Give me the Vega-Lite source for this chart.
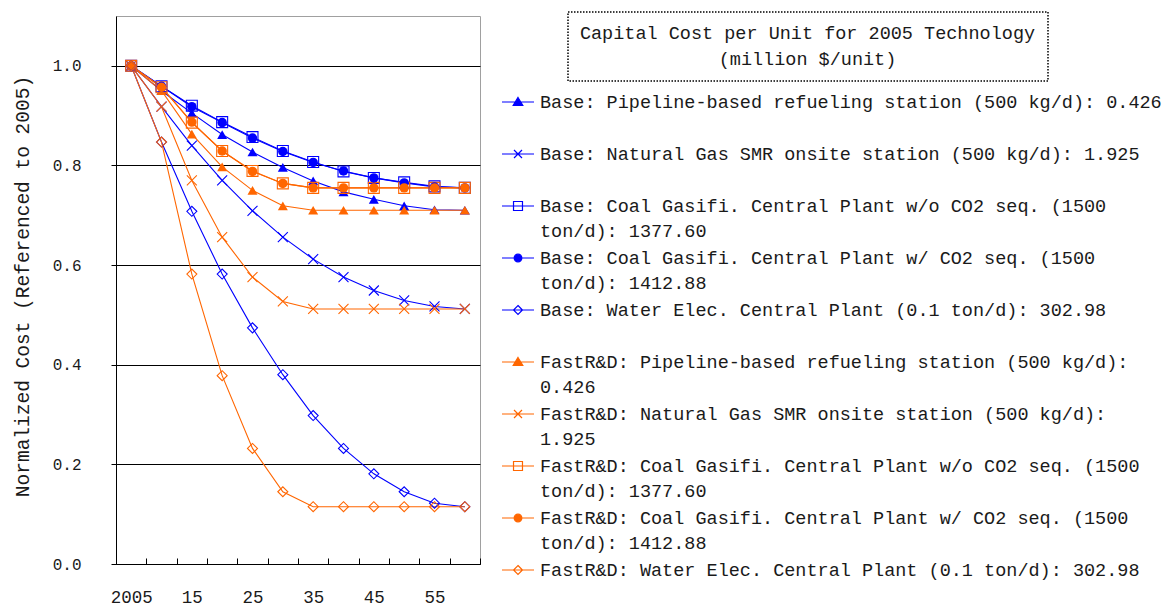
{
  "$schema": "https://vega.github.io/schema/vega-lite/v6.json",
  "width": 364,
  "height": 548,
  "autosize": "none",
  "padding": {"left": 116, "top": 16, "right": 684, "bottom": 42},
  "background": "white",
  "datasets": {
    "pts": [
      {"year":2005,"s":"B1","v":1.0},{"year":2010,"s":"B1","v":0.950},{"year":2015,"s":"B1","v":0.905},{"year":2020,"s":"B1","v":0.862},{"year":2025,"s":"B1","v":0.827},{"year":2030,"s":"B1","v":0.796},{"year":2035,"s":"B1","v":0.769},{"year":2040,"s":"B1","v":0.747},{"year":2045,"s":"B1","v":0.732},{"year":2050,"s":"B1","v":0.719},{"year":2055,"s":"B1","v":0.711},{"year":2060,"s":"B1","v":0.710},
      {"year":2005,"s":"B2","v":1.0},{"year":2010,"s":"B2","v":0.918},{"year":2015,"s":"B2","v":0.840},{"year":2020,"s":"B2","v":0.770},{"year":2025,"s":"B2","v":0.709},{"year":2030,"s":"B2","v":0.656},{"year":2035,"s":"B2","v":0.612},{"year":2040,"s":"B2","v":0.576},{"year":2045,"s":"B2","v":0.549},{"year":2050,"s":"B2","v":0.529},{"year":2055,"s":"B2","v":0.517},{"year":2060,"s":"B2","v":0.512},
      {"year":2005,"s":"B3","v":1.0},{"year":2010,"s":"B3","v":0.959},{"year":2015,"s":"B3","v":0.920},{"year":2020,"s":"B3","v":0.887},{"year":2025,"s":"B3","v":0.857},{"year":2030,"s":"B3","v":0.829},{"year":2035,"s":"B3","v":0.807},{"year":2040,"s":"B3","v":0.788},{"year":2045,"s":"B3","v":0.775},{"year":2050,"s":"B3","v":0.766},{"year":2055,"s":"B3","v":0.758},{"year":2060,"s":"B3","v":0.755},
      {"year":2005,"s":"B4","v":1.0},{"year":2010,"s":"B4","v":0.959},{"year":2015,"s":"B4","v":0.918},{"year":2020,"s":"B4","v":0.886},{"year":2025,"s":"B4","v":0.855},{"year":2030,"s":"B4","v":0.828},{"year":2035,"s":"B4","v":0.806},{"year":2040,"s":"B4","v":0.789},{"year":2045,"s":"B4","v":0.775},{"year":2050,"s":"B4","v":0.765},{"year":2055,"s":"B4","v":0.757},{"year":2060,"s":"B4","v":0.755},
      {"year":2005,"s":"B5","v":1.0},{"year":2010,"s":"B5","v":0.847},{"year":2015,"s":"B5","v":0.708},{"year":2020,"s":"B5","v":0.582},{"year":2025,"s":"B5","v":0.474},{"year":2030,"s":"B5","v":0.380},{"year":2035,"s":"B5","v":0.298},{"year":2040,"s":"B5","v":0.232},{"year":2045,"s":"B5","v":0.181},{"year":2050,"s":"B5","v":0.145},{"year":2055,"s":"B5","v":0.122},{"year":2060,"s":"B5","v":0.115},
      {"year":2005,"s":"F1","v":1.0},{"year":2010,"s":"F1","v":0.950},{"year":2015,"s":"F1","v":0.863},{"year":2020,"s":"F1","v":0.797},{"year":2025,"s":"F1","v":0.750},{"year":2030,"s":"F1","v":0.719},{"year":2035,"s":"F1","v":0.710},{"year":2040,"s":"F1","v":0.710},{"year":2045,"s":"F1","v":0.710},{"year":2050,"s":"F1","v":0.710},{"year":2055,"s":"F1","v":0.710},{"year":2060,"s":"F1","v":0.710},
      {"year":2005,"s":"F2","v":1.0},{"year":2010,"s":"F2","v":0.918},{"year":2015,"s":"F2","v":0.770},{"year":2020,"s":"F2","v":0.656},{"year":2025,"s":"F2","v":0.576},{"year":2030,"s":"F2","v":0.527},{"year":2035,"s":"F2","v":0.512},{"year":2040,"s":"F2","v":0.512},{"year":2045,"s":"F2","v":0.512},{"year":2050,"s":"F2","v":0.512},{"year":2055,"s":"F2","v":0.512},{"year":2060,"s":"F2","v":0.512},
      {"year":2005,"s":"F3","v":1.0},{"year":2010,"s":"F3","v":0.957},{"year":2015,"s":"F3","v":0.886},{"year":2020,"s":"F3","v":0.829},{"year":2025,"s":"F3","v":0.789},{"year":2030,"s":"F3","v":0.764},{"year":2035,"s":"F3","v":0.755},{"year":2040,"s":"F3","v":0.755},{"year":2045,"s":"F3","v":0.755},{"year":2050,"s":"F3","v":0.755},{"year":2055,"s":"F3","v":0.755},{"year":2060,"s":"F3","v":0.755},
      {"year":2005,"s":"F4","v":1.0},{"year":2010,"s":"F4","v":0.957},{"year":2015,"s":"F4","v":0.887},{"year":2020,"s":"F4","v":0.829},{"year":2025,"s":"F4","v":0.788},{"year":2030,"s":"F4","v":0.764},{"year":2035,"s":"F4","v":0.755},{"year":2040,"s":"F4","v":0.755},{"year":2045,"s":"F4","v":0.755},{"year":2050,"s":"F4","v":0.755},{"year":2055,"s":"F4","v":0.755},{"year":2060,"s":"F4","v":0.755},
      {"year":2005,"s":"F5","v":1.0},{"year":2010,"s":"F5","v":0.847},{"year":2015,"s":"F5","v":0.582},{"year":2020,"s":"F5","v":0.378},{"year":2025,"s":"F5","v":0.232},{"year":2030,"s":"F5","v":0.145},{"year":2035,"s":"F5","v":0.115},{"year":2040,"s":"F5","v":0.115},{"year":2045,"s":"F5","v":0.115},{"year":2050,"s":"F5","v":0.115},{"year":2055,"s":"F5","v":0.115},{"year":2060,"s":"F5","v":0.115}
    ],
    "meta": [
      {"s":"B1","name":"Base: Pipeline-based refueling station (500 kg/d): 0.426"},
      {"s":"B2","name":"Base: Natural Gas SMR onsite station (500 kg/d): 1.925"},
      {"s":"B3","name":"Base: Coal Gasifi. Central Plant w/o CO2 seq. (1500 ton/d): 1377.60"},
      {"s":"B4","name":"Base: Coal Gasifi. Central Plant w/ CO2 seq. (1500 ton/d): 1412.88"},
      {"s":"B5","name":"Base: Water Elec. Central Plant (0.1 ton/d): 302.98"},
      {"s":"F1","name":"FastR&D: Pipeline-based refueling station (500 kg/d): 0.426"},
      {"s":"F2","name":"FastR&D: Natural Gas SMR onsite station (500 kg/d): 1.925"},
      {"s":"F3","name":"FastR&D: Coal Gasifi. Central Plant w/o CO2 seq. (1500 ton/d): 1377.60"},
      {"s":"F4","name":"FastR&D: Coal Gasifi. Central Plant w/ CO2 seq. (1500 ton/d): 1412.88"},
      {"s":"F5","name":"FastR&D: Water Elec. Central Plant (0.1 ton/d): 302.98"}
    ]
  },
  "data": {"name": "pts"},
  "transform": [
    {"lookup": "s", "from": {"data": {"name": "meta"}, "key": "s", "fields": ["name"]}}
  ],
  "encoding": {
    "x": {
      "field": "year", "type": "ordinal",
      "scale": {"type": "band", "paddingInner": 0, "paddingOuter": 0},
      "axis": {
        "title": null, "labelAngle": 0, "tickBand": "extent", "tickSize": -6,
        "tickColor": "black", "domainColor": "black", "grid": false,
        "labelFontSize": 17.5, "labelPadding": 30, "labelColor": "#1a1a1a",
        "labelExpr": "datum.value % 10 != 5 ? '' : (datum.value == 2005 ? '2005' : substring(toString(datum.value), 2))"
      }
    },
    "y": {
      "field": "v", "type": "quantitative",
      "scale": {"domain": [0, 1.1], "nice": false, "zero": true},
      "axis": {
        "values": [0, 0.2, 0.4, 0.6, 0.8, 1.0], "format": ".1f",
        "grid": true, "gridColor": "black", "gridOpacity": 1, "gridWidth": 1,
        "tickSize": 5, "tickColor": "black", "domainColor": "black",
        "labelFontSize": 16, "labelPadding": 30, "labelColor": "#1a1a1a",
        "title": "Normalized Cost (Referenced to 2005)",
        "titleFontSize": 19.5, "titleFontWeight": "normal", "titleColor": "#1a1a1a",
        "titleX": -94, "titleY": 270, "titleAngle": -90, "titleBaseline": "middle", "titleAlign": "center"
      }
    }
  },
  "layer": [
    {
      "transform": [{"filter": {"field": "year", "equal": 2005}}],
      "mark": {"type": "point", "filled": false, "opacity": 0},
      "encoding": {
        "stroke": {"field": "name", "type": "nominal",
          "scale": {
            "domain": [
              "Base: Pipeline-based refueling station (500 kg/d): 0.426",
              "Base: Natural Gas SMR onsite station (500 kg/d): 1.925",
              "Base: Coal Gasifi. Central Plant w/o CO2 seq. (1500 ton/d): 1377.60",
              "Base: Coal Gasifi. Central Plant w/ CO2 seq. (1500 ton/d): 1412.88",
              "Base: Water Elec. Central Plant (0.1 ton/d): 302.98",
              "FastR&D: Pipeline-based refueling station (500 kg/d): 0.426",
              "FastR&D: Natural Gas SMR onsite station (500 kg/d): 1.925",
              "FastR&D: Coal Gasifi. Central Plant w/o CO2 seq. (1500 ton/d): 1377.60",
              "FastR&D: Coal Gasifi. Central Plant w/ CO2 seq. (1500 ton/d): 1412.88",
              "FastR&D: Water Elec. Central Plant (0.1 ton/d): 302.98"
            ],
            "range": ["#0000FF","#0000FF","#0000FF","#0000FF","#0000FF","#FF6600","#FF6600","#FF6600","#FF6600","#FF6600"]
          },
          "legend": {
            "orient": "none", "legendX": 385, "legendY": 69, "title": null,
            "padding": 0, "symbolSize": 1024, "symbolStrokeWidth": 1.2, "symbolOpacity": 1,
            "labelFontSize": 18.5, "labelColor": "#1a1a1a", "labelLimit": 0, "labelOffset": 5,
            "rowPadding": 0, "symbolLimit": 0,
            "labelExpr": "split(replace(replace(datum.label, '(1500 ', '(1500|'), regexp('^(FastR&D: [^:]+kg/d.:) '), '$1|') + (test(regexp('1500|^FastR&D: [^:]+kg/d'), datum.label) ? '' : '|'), '|')",
            "encoding": {"symbols": {"fill": {"value": {"expr": "scale('fill', datum.value)"}}}}
          }
        },
        "fill": {"field": "name", "type": "nominal",
          "scale": {
            "domain": [
              "Base: Pipeline-based refueling station (500 kg/d): 0.426",
              "Base: Natural Gas SMR onsite station (500 kg/d): 1.925",
              "Base: Coal Gasifi. Central Plant w/o CO2 seq. (1500 ton/d): 1377.60",
              "Base: Coal Gasifi. Central Plant w/ CO2 seq. (1500 ton/d): 1412.88",
              "Base: Water Elec. Central Plant (0.1 ton/d): 302.98",
              "FastR&D: Pipeline-based refueling station (500 kg/d): 0.426",
              "FastR&D: Natural Gas SMR onsite station (500 kg/d): 1.925",
              "FastR&D: Coal Gasifi. Central Plant w/o CO2 seq. (1500 ton/d): 1377.60",
              "FastR&D: Coal Gasifi. Central Plant w/ CO2 seq. (1500 ton/d): 1412.88",
              "FastR&D: Water Elec. Central Plant (0.1 ton/d): 302.98"
            ],
            "range": ["#0000FF","transparent","transparent","#0000FF","transparent","#FF6600","transparent","transparent","#FF6600","transparent"]
          }
        },
        "shape": {"field": "name", "type": "nominal",
          "scale": {
            "domain": [
              "Base: Pipeline-based refueling station (500 kg/d): 0.426",
              "Base: Natural Gas SMR onsite station (500 kg/d): 1.925",
              "Base: Coal Gasifi. Central Plant w/o CO2 seq. (1500 ton/d): 1377.60",
              "Base: Coal Gasifi. Central Plant w/ CO2 seq. (1500 ton/d): 1412.88",
              "Base: Water Elec. Central Plant (0.1 ton/d): 302.98",
              "FastR&D: Pipeline-based refueling station (500 kg/d): 0.426",
              "FastR&D: Natural Gas SMR onsite station (500 kg/d): 1.925",
              "FastR&D: Coal Gasifi. Central Plant w/o CO2 seq. (1500 ton/d): 1377.60",
              "FastR&D: Coal Gasifi. Central Plant w/ CO2 seq. (1500 ton/d): 1412.88",
              "FastR&D: Water Elec. Central Plant (0.1 ton/d): 302.98"
            ],
            "range": [
              "M-1,0H1M0,-0.28L0.3,0.22H-0.3Z",
              "M-1,0H1M-0.25,-0.25L0.25,0.25M-0.25,0.25L0.25,-0.25",
              "M-1,0H1M-0.28,-0.28H0.28V0.28H-0.28Z",
              "M-1,0H1M0.24,0A0.24,0.24,0,1,1,-0.24,0A0.24,0.24,0,1,1,0.24,0Z",
              "M-1,0H1M0,-0.28L0.28,0L0,0.28L-0.28,0Z",
              "M-1,0H1M0,-0.28L0.3,0.22H-0.3Z",
              "M-1,0H1M-0.25,-0.25L0.25,0.25M-0.25,0.25L0.25,-0.25",
              "M-1,0H1M-0.28,-0.28H0.28V0.28H-0.28Z",
              "M-1,0H1M0.24,0A0.24,0.24,0,1,1,-0.24,0A0.24,0.24,0,1,1,0.24,0Z",
              "M-1,0H1M0,-0.28L0.28,0L0,0.28L-0.28,0Z"
            ]
          }
        },
        "strokeDash": {"field": "year", "type": "nominal",
          "scale": {"domain": [2005], "range": [[1, 0]]},
          "legend": {
            "orient": "none", "legendX": 452, "legendY": -4, "title": null,
            "strokeColor": "black", "padding": 12, "symbolSize": 1,
            "labelOffset": 209, "labelAlign": "center", "labelFontSize": 18.5, "labelColor": "#1a1a1a", "labelLimit": 0,
            "symbolStrokeWidth": 0.5,
            "labelExpr": "['Capital Cost per Unit for 2005 Technology', '(million $/unit)']"
          }
        }
      }
    },
    {
      "mark": {"type": "line", "strokeWidth": 1.1},
      "encoding": {"stroke": {"field": "name", "type": "nominal"}}
    },
    {
      "transform": [{"filter": {"field": "s", "oneOf": ["B1", "F1"]}}],
      "mark": {"type": "point", "shape": "triangle-up", "size": 100, "filled": true, "opacity": 1},
      "encoding": {"fill": {"field": "name", "type": "nominal"}}
    },
    {
      "transform": [{"filter": {"field": "s", "oneOf": ["B2", "F2"]}}],
      "mark": {"type": "point", "shape": "M-1,-1L1,1M-1,1L1,-1", "size": 100, "filled": false, "strokeWidth": 1.1, "opacity": 1},
      "encoding": {"stroke": {"field": "name", "type": "nominal"}}
    },
    {
      "transform": [{"filter": {"field": "s", "oneOf": ["B3", "F3"]}}],
      "mark": {"type": "point", "shape": "square", "size": 120, "filled": false, "strokeWidth": 1.1, "opacity": 1},
      "encoding": {"stroke": {"field": "name", "type": "nominal"}}
    },
    {
      "transform": [{"filter": {"field": "s", "oneOf": ["B4", "F4"]}}],
      "mark": {"type": "point", "shape": "circle", "size": 90, "filled": true, "opacity": 1},
      "encoding": {"fill": {"field": "name", "type": "nominal"}}
    },
    {
      "transform": [{"filter": {"field": "s", "oneOf": ["B5", "F5"]}}],
      "mark": {"type": "point", "shape": "diamond", "size": 100, "filled": false, "strokeWidth": 1.1, "opacity": 1},
      "encoding": {"stroke": {"field": "name", "type": "nominal"}}
    }
  ],
  "config": {
    "font": "Liberation Mono",
    "view": {"stroke": "#a0a0a0", "strokeWidth": 1},
    "legend": {"strokeDash": [1.5, 1.5], "strokeWidth": 1.5},
    "style": {"guide-label": {"lineHeight": 25.3}},
    "axis": {"labelFont": "Liberation Mono", "titleFont": "Liberation Mono"}
  }
}
